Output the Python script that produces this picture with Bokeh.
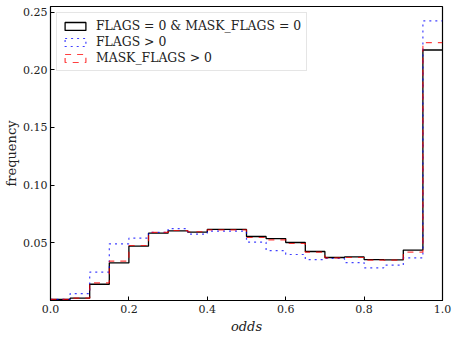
from bokeh.plotting import figure
from bokeh.models import Range1d, FixedTicker, NumeralTickFormatter, ColumnDataSource, Legend, LegendItem
from bokeh.embed import file_html
from bokeh.resources import INLINE

# bin edges (0 .. 1 in steps of 0.05)
edges = [0.0, 0.05, 0.10, 0.15, 0.20, 0.25, 0.30, 0.35, 0.40, 0.45, 0.50,
         0.55, 0.60, 0.65, 0.70, 0.75, 0.80, 0.85, 0.90, 0.95, 1.0]

clean = [0.001, 0.002, 0.0141, 0.0326, 0.0471, 0.0584, 0.0604, 0.0593, 0.0616, 0.0616,
         0.0555, 0.0537, 0.0503, 0.0425, 0.0373, 0.0378, 0.0355, 0.0352, 0.0437, 0.2172]
flags = [0.001, 0.006, 0.0246, 0.0491, 0.0540, 0.0590, 0.0624, 0.0575, 0.0601, 0.0601,
         0.0506, 0.0433, 0.0399, 0.0355, 0.0364, 0.0329, 0.0283, 0.0306, 0.0370, 0.2424]
mask = [0.001, 0.002, 0.0153, 0.0341, 0.0477, 0.0590, 0.0607, 0.0596, 0.0613, 0.0613,
        0.0546, 0.0526, 0.0494, 0.0419, 0.0370, 0.0373, 0.0350, 0.0350, 0.0419, 0.2236]

labels = ["FLAGS = 0 & MASK_FLAGS = 0", "FLAGS > 0", "MASK_FLAGS > 0"]

x_ticks = [0.0, 0.2, 0.4, 0.6, 0.8, 1.0]
y_ticks = [0.05, 0.10, 0.15, 0.20, 0.25]

FONT = "DejaVu Serif"
nan = float("nan")

p = figure(width=458, height=337, output_backend="svg", toolbar_location=None,
           x_range=Range1d(0.0, 1.0), y_range=Range1d(0.0, 0.2549),
           min_border_left=50, min_border_right=16, min_border_top=6, min_border_bottom=37)
p.xgrid.visible = False
p.ygrid.visible = False
p.outline_line_color = "black"
p.outline_line_width = 1.2

styles = [
    (clean, "black", "solid", 1.3, 1.0),
    (flags, "#0000ff", "dotted", 1.2, 0.75),
    (mask, "#ff0000", "dashed", 1.2, 0.75),
]

items = []
for (vals, col, dash, lw, alpha), lab in zip(styles, labels):
    src = ColumnDataSource(dict(x=edges, y=list(vals) + [vals[-1]]))
    p.step("x", "y", source=src, mode="after", line_color=col, line_dash=dash,
           line_width=lw, line_alpha=alpha)
    # legend handle (patch outline like matplotlib's step histogram)
    hsrc = ColumnDataSource(dict(l=[nan], r=[nan], t=[nan], b=[nan]))
    q = p.quad(left="l", right="r", top="t", bottom="b", source=hsrc,
               line_color=col, line_dash=dash, line_width=lw, line_alpha=alpha,
               fill_alpha=0)
    items.append(LegendItem(label=lab, renderers=[q]))

legend = Legend(items=items, location="top_left")
legend.margin = 6
legend.padding = 5
legend.spacing = 1
legend.glyph_width = 26
legend.glyph_height = 10
legend.label_height = 14
legend.label_standoff = 8
legend.label_text_font = FONT
legend.label_text_font_size = "12.4px"
legend.label_text_color = "#222222"
legend.border_line_color = "#cccccc"
legend.border_line_width = 1
legend.background_fill_alpha = 0.85
p.add_layout(legend)

for ax in (p.xaxis[0], p.yaxis[0]):
    ax.major_tick_in = 4
    ax.major_tick_out = 0
    ax.minor_tick_line_color = None
    ax.axis_line_color = "black"
    ax.major_tick_line_color = "black"
    ax.major_label_text_font = FONT
    ax.major_label_text_font_size = "11px"
    ax.major_label_text_color = "#222222"
    ax.axis_label_text_font = FONT
    ax.axis_label_text_font_size = "13px"
    ax.axis_label_text_font_style = "normal"
    ax.axis_label_text_color = "#222222"

p.xaxis.ticker = FixedTicker(ticks=x_ticks)
p.xaxis.formatter = NumeralTickFormatter(format="0.0")
p.yaxis.ticker = FixedTicker(ticks=y_ticks)
p.yaxis.formatter = NumeralTickFormatter(format="0.00")
p.xaxis.axis_label = "odds"
p.xaxis.axis_label_text_font_style = "italic"
p.yaxis.axis_label = "frequency"
p.xaxis.major_label_standoff = 4
p.yaxis.major_label_standoff = 3
p.xaxis.axis_label_standoff = 3
p.yaxis.axis_label_standoff = 1

open("out.html", "w").write(file_html(p, INLINE))
